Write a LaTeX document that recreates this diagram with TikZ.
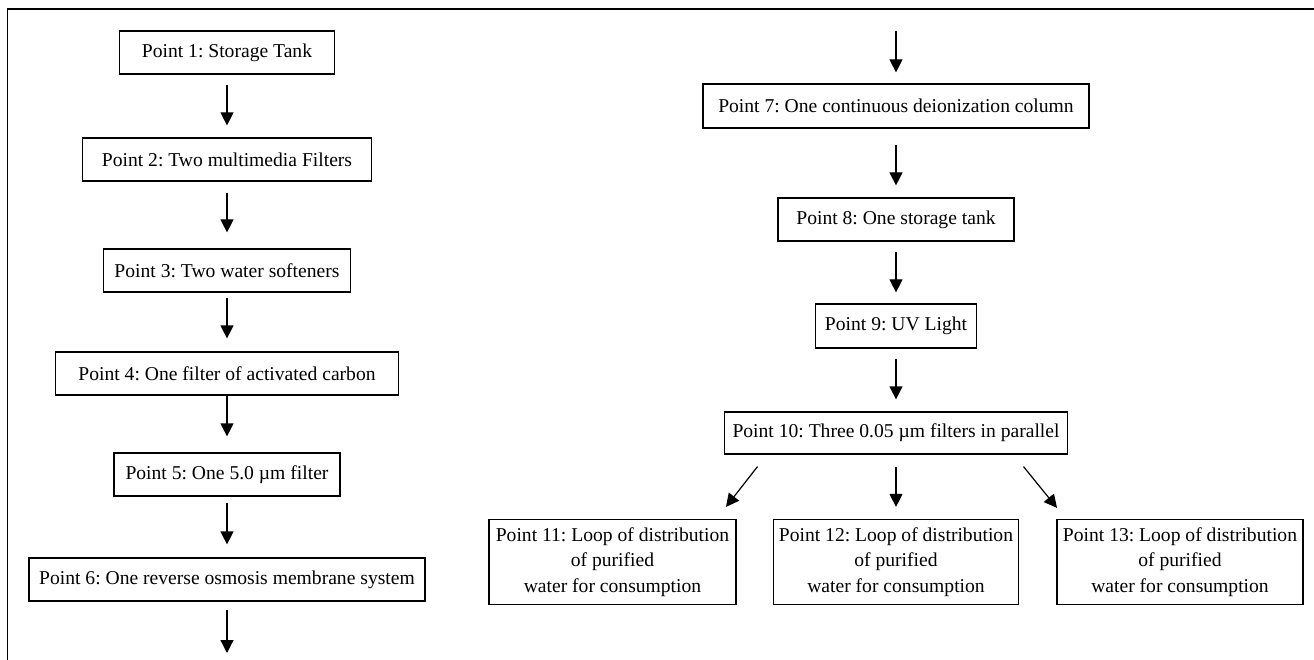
\documentclass[tikz,border=0pt]{standalone}
\usepackage{fontspec}
\setmainfont{Liberation Serif}
\usetikzlibrary{arrows.meta,calc}
\begin{document}
\frenchspacing
\begin{tikzpicture}[x=1pt,y=-1pt,
  box/.style={draw=black,line width=1.2pt,inner sep=0pt,align=center,
    font=\fontsize{19.6}{25.2}\selectfont},
  flow/.style={line width=1.2pt,-{Triangle[width=13pt,length=13pt]}},
  frame/.style={line width=1.5pt}]
\useasboundingbox (0,0) rectangle (1314,660);
\draw[frame] (7.5,660) -- (7.5,9) -- (1314,9);

% left column
\node[box,minimum width=215pt,minimum height=43pt] (p1) at (227,52.5) {Point 1: Storage Tank};
\node[box,minimum width=289pt,minimum height=43pt] (p2) at (227,159.5) {Point 2: Two multimedia Filters};
\node[box,minimum width=247pt,minimum height=43pt] (p3) at (227,270.5) {Point 3: Two water softeners};
\node[box,minimum width=343pt,minimum height=43pt] (p4) at (227,373.5) {Point 4: One filter of activated carbon};
\node[box,minimum width=226pt,minimum height=43pt] (p5) at (227,474.5) {Point 5: One 5.0 µm filter};
\node[box,minimum width=396pt,minimum height=43pt] (p6) at (227,579.5) {Point 6: One reverse osmosis membrane system};
\coordinate (lend) at (227,653);

% right column
\coordinate (rstart) at (896,31);
\node[box,minimum width=386pt,minimum height=44pt] (p7) at (896,106) {Point 7: One continuous deionization column};
\node[box,minimum width=236pt,minimum height=43pt] (p8) at (896,219.5) {Point 8: One storage tank};
\node[box,minimum width=161pt,minimum height=44pt] (p9) at (896,326) {Point 9: UV Light};
\node[box,minimum width=343pt,minimum height=42pt] (p10) at (896,433) {Point 10: Three 0.05 µm filters in parallel};
\node[box,minimum width=247pt,minimum height=85pt] (p11) at (612.5,562) {Point 11: Loop of distribution\\of purified\\water for consumption};
\node[box,minimum width=245pt,minimum height=85pt] (p12) at (896,562) {Point 12: Loop of distribution\\of purified\\water for consumption};
\node[box,minimum width=246pt,minimum height=85pt] (p13) at (1180,562) {Point 13: Loop of distribution\\of purified\\water for consumption};

% connectors
\draw[flow,shorten <=10pt,shorten >=12pt] (p1) -- (p2);
\draw[flow,shorten <=11pt,shorten >=16pt] (p2) -- (p3);
\draw[flow,shorten <=5pt,shorten >=13pt] (p3) -- (p4);
\draw[flow,shorten <=0pt,shorten >=16pt] (p4) -- (p5);
\draw[flow,shorten <=6pt,shorten >=13pt] (p5) -- (p6);
\draw[flow,shorten <=8pt] (p6) -- (lend);

\draw[flow,shorten >=11pt] (rstart) -- (p7);
\draw[flow,shorten <=16pt,shorten >=12pt] (p7) -- (p8);
\draw[flow,shorten <=10pt,shorten >=11pt] (p8) -- (p9);
\draw[flow,shorten <=10pt,shorten >=12pt] (p9) -- (p10);
\draw[flow,shorten <=12pt,shorten >=12pt] (p10) -- (p12);
\draw[flow] ($(p10.south)+(-138.5,12)$) -- ($(p11.north)+(113.5,-12)$);
\draw[flow] ($(p10.south)+(127.5,12)$) -- ($(p13.north)+(-123,-11)$);
\end{tikzpicture}
\end{document}
